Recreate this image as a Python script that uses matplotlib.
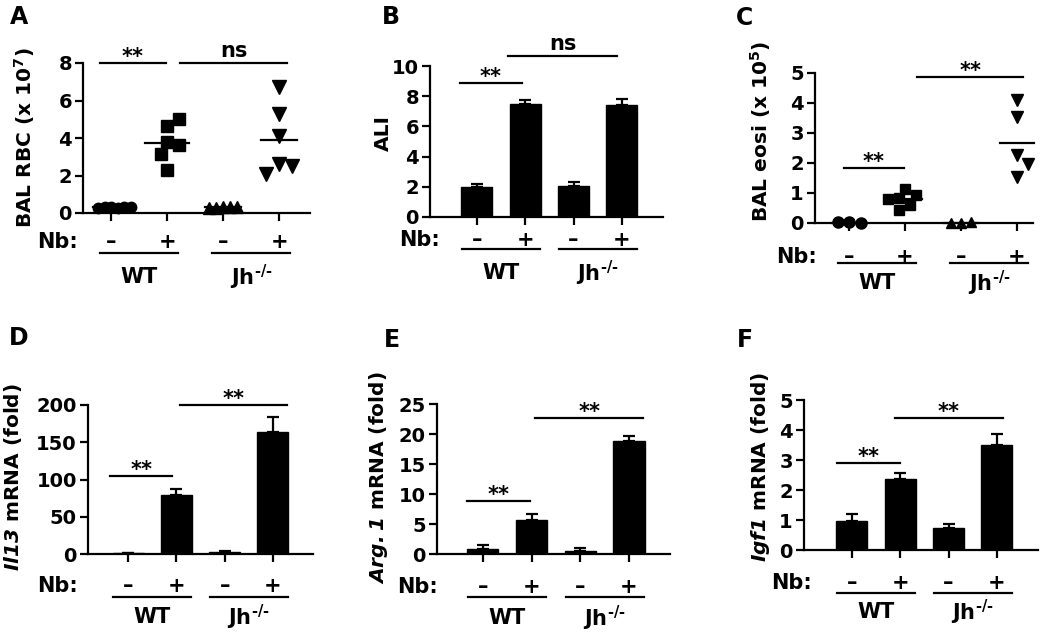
import matplotlib
matplotlib.use('Agg')
import matplotlib.pyplot as plt
from matplotlib import transforms
import numpy as np

plt.rcParams['font.family'] = ['DejaVu Sans']
plt.rcParams['font.weight'] = 'bold'
plt.rcParams['mathtext.fontset'] = 'custom'
plt.rcParams['mathtext.rm'] = 'DejaVu Sans:bold'
plt.rcParams['mathtext.bf'] = 'DejaVu Sans:bold'
plt.rcParams['mathtext.it'] = 'DejaVu Sans:italic:bold'
plt.rcParams['mathtext.sf'] = 'DejaVu Sans:italic:bold'
plt.rcParams['mathtext.default'] = 'rm'

# ---------------- data ----------------
groups = ['WT', 'Jh$^{\u2010/\u2010}$']
nb_signs = ['\u2013', '+', '\u2013', '+']

# A: BAL RBC (x 10^7), individual mice
rbc_wt_ctrl = [0.30, 0.27, 0.33, 0.30, 0.26, 0.32]
rbc_wt_nb = [4.66, 5.03, 3.77, 3.61, 3.16, 2.31]
rbc_jh_ctrl = [0.33, 0.30, 0.27, 0.31, 0.29]
rbc_jh_nb = [6.72, 5.30, 4.10, 2.62, 2.50, 2.10]

# C: BAL eosinophils (x 10^5), individual mice
eos_wt_ctrl = [0.02, 0.01, 0.02]
eos_wt_nb = [1.15, 0.93, 0.83, 0.80, 0.60, 0.43]
eos_jh_ctrl = [0.01, 0.02, 0.01]
eos_jh_nb = [4.10, 3.53, 2.27, 1.97, 1.53]

# B: ALI (mean, SEM)
ali_mean = [2.0, 7.5, 2.05, 7.45]
ali_sem = [0.2, 0.25, 0.3, 0.35]
# D: Il13 mRNA (fold)
il13_mean = [1.0, 79.0, 3.0, 164.0]
il13_sem = [1.0, 8.5, 1.5, 20.0]
# E: Arg.1 mRNA (fold)
arg1_mean = [0.9, 5.7, 0.55, 18.8]
arg1_sem = [0.6, 0.9, 0.45, 0.8]
# F: Igf1 mRNA (fold)
igf1_mean = [0.98, 2.38, 0.72, 3.5]
igf1_sem = [0.22, 0.2, 0.15, 0.37]

# significance annotations: (label, x_from, x_to, y)
sig_A = [('**', -0.2, 0.98, 8.0), ('ns', 1.23, 3.14, 8.0)]
sig_B = [('**', -0.35, 0.93, 8.87), ('ns', 0.64, 2.9, 10.66)]
sig_C = [('**', -0.1, 0.98, 1.83), ('**', 1.21, 3.12, 4.87)]
sig_D = [('**', -0.37, 0.91, 105), ('**', 1.08, 3.29, 200)]
sig_E = [('**', -0.33, 0.97, 8.9), ('**', 1.07, 3.29, 22.7)]
sig_F = [('**', -0.31, 0.99, 2.91), ('**', 0.89, 3.13, 4.39)]

# ---------------- layout ----------------
W, H = 1050, 633
fig = plt.figure(figsize=(W / 100, H / 100), dpi=100)

FS_TICK = 14
FS_LAB = 14.5
FS_ROW = 15
LW = 1.6


def make_ax(l, r, t, b, xlim, ylim, ystep):
    ax = fig.add_axes([l / W, 1 - b / H, (r - l) / W, (b - t) / H])
    ax.set_xlim(*xlim)
    ax.set_ylim(*ylim)
    ax.set_yticks(np.arange(ylim[0], ylim[1] + ystep / 2, ystep))
    ax.set_xticks(range(4))
    ax.set_xticklabels([])
    for s in ['top', 'right']:
        ax.spines[s].set_visible(False)
    for s in ['left', 'bottom']:
        ax.spines[s].set_linewidth(LW)
    ax.tick_params(axis='both', direction='out', length=6, width=LW,
                   labelsize=FS_TICK, pad=2)
    for lab in ax.get_yticklabels():
        lab.set_fontweight('bold')
    ax.patch.set_alpha(0)
    ax._px = (l, r, t, b)
    return ax


def swarm(values, ypx, d):
    placed, offs = [], []
    cands = [0.0]
    for i in range(1, 12):
        cands += [i * d / 2, -i * d / 2]
    for v in values:
        y = v * ypx
        for c in cands:
            if all((c - px) ** 2 + (y - py) ** 2 >= d * d for px, py in placed):
                break
        placed.append((c, y))
        offs.append(c)
    return np.array(offs)


def scatter_group(ax, xpos, vals, marker, ms, d, mean_half_px):
    l, r, t, b = ax._px
    x0, x1 = ax.get_xlim()
    y0, y1 = ax.get_ylim()
    xpx = (r - l) / (x1 - x0)
    ypx = (b - t) / (y1 - y0)
    offs = swarm(vals, ypx, d) / xpx
    ax.plot(xpos + offs, vals, linestyle='none', marker=marker, ms=ms,
            color='k', clip_on=False, zorder=3)
    m = np.mean(vals)
    h = mean_half_px / xpx
    ax.plot([xpos - h, xpos + h], [m, m], color='k', lw=LW, clip_on=False, zorder=4)


def bars(ax, means, sems):
    x = np.arange(4)
    ax.bar(x, means, width=0.64, color='k', edgecolor='k', zorder=2)
    ax.errorbar(x, means, yerr=[np.zeros(4), sems], fmt='none', ecolor='k',
                elinewidth=LW, capsize=4.5, capthick=LW, zorder=1, clip_on=False)


def sig(ax, items):
    for lab, xa, xb, y in items:
        ax.plot([xa, xb], [y, y], color='k', lw=LW, clip_on=False)
        off = 0 if lab == '**' else 4
        ax.annotate(lab, xy=((xa + xb) / 2, y), xytext=(0, off),
                    textcoords='offset points', ha='center', va='baseline',
                    fontsize=FS_ROW, fontweight='bold', annotation_clip=False)


def nb_row(ax, nb_right_px, off_nb, off_line, off_lab):
    l, r, t, b = ax._px
    h = b - t
    x0, x1 = ax.get_xlim()
    xpx = (r - l) / (x1 - x0)
    tr = transforms.blended_transform_factory(ax.transData, ax.transAxes)
    fig.text(nb_right_px / W, 1 - (b + off_nb) / H, 'Nb:', ha='right',
             va='center', fontsize=FS_ROW, fontweight='bold')
    for i, s in enumerate(nb_signs):
        ax.text(i, -off_nb / h, s, transform=tr, ha='center', va='center',
                fontsize=FS_ROW, fontweight='bold', clip_on=False)
    half = 39 / xpx
    for g, c in enumerate([0.5, 2.5]):
        ax.plot([c - half, c + half], [-off_line / h] * 2, transform=tr,
                color='k', lw=LW, clip_on=False)
        ax.text(c, -off_lab / h, groups[g], transform=tr, ha='center',
                va='center', fontsize=FS_ROW, fontweight='bold', clip_on=False)


def ylabel(x, y, s):
    fig.text(x / W, 1 - y / H, s, rotation=90, ha='center', va='center',
             fontsize=FS_LAB, fontweight='bold')


def letter(x, y, s):
    fig.text(x / W, 1 - y / H, s, ha='left', va='center', fontsize=17,
             fontweight='bold')


# ---- A ----
axA = make_ax(83, 310, 63, 213, (-0.5, 3.55), (0, 8), 2)
scatter_group(axA, 0, rbc_wt_ctrl, 'o', 7.5, 6.5, 18)
scatter_group(axA, 1, rbc_wt_nb, 's', 8.5, 12, 22)
scatter_group(axA, 2, rbc_jh_ctrl, '^', 8.5, 7.0, 18)
scatter_group(axA, 3, rbc_jh_nb, 'v', 9.5, 13, 18)
sig(axA, sig_A)
nb_row(axA, 78, 29, 40, 64)
ylabel(25, 138, r'BAL RBC (x 10$^{7}$)')
letter(10, 17, 'A')

# ---- B ----
axB = make_ax(430, 663, 66, 217, (-0.97, 3.85), (0, 10), 2)
bars(axB, ali_mean, ali_sem)
sig(axB, sig_B)
nb_row(axB, 440, 23, 32, 56)
ylabel(383, 133, 'ALI')
letter(382, 17, 'B')

# ---- C ----
axC = make_ax(815, 1033, 73, 223, (-0.61, 3.29), (0, 5), 1)
scatter_group(axC, 0, eos_wt_ctrl, 'o', 8, 11.5, 17)
scatter_group(axC, 1, eos_wt_nb, 's', 7.5, 11, 17)
scatter_group(axC, 2, eos_jh_ctrl, '^', 7.5, 10, 17)
scatter_group(axC, 3, eos_jh_nb, 'v', 8, 11, 17)
sig(axC, sig_C)
nb_row(axC, 817, 34, 40, 60)
ylabel(761, 131, r'BAL eosi (x 10$^{5}$)')
letter(736, 18, 'C')

# ---- D ----
axD = make_ax(88, 313, 405, 554, (-0.83, 3.83), (0, 200), 50)
bars(axD, il13_mean, il13_sem)
sig(axD, sig_D)
nb_row(axD, 78, 32, 43, 63)
ylabel(13, 477, r'$\mathsf{Il13}$ mRNA (fold)')
letter(9, 338, 'D')

# ---- E ----
axE = make_ax(437, 670, 404, 554, (-0.94, 3.84), (0, 25), 5)
bars(axE, arg1_mean, arg1_sem)
sig(axE, sig_E)
nb_row(axE, 438, 33, 43, 64)
ylabel(378, 478, r'$\mathsf{Arg.1}$ mRNA (fold)')
letter(384, 340, 'E')

# ---- F ----
axF = make_ax(804, 1038, 400, 550, (-0.99, 3.85), (0, 5), 1)
bars(axF, igf1_mean, igf1_sem)
sig(axF, sig_F)
nb_row(axF, 812, 33, 43, 62)
ylabel(761, 467, r'$\mathsf{Igf1}$ mRNA (fold)')
letter(737, 340, 'F')

fig.savefig('out.png', dpi=100)
